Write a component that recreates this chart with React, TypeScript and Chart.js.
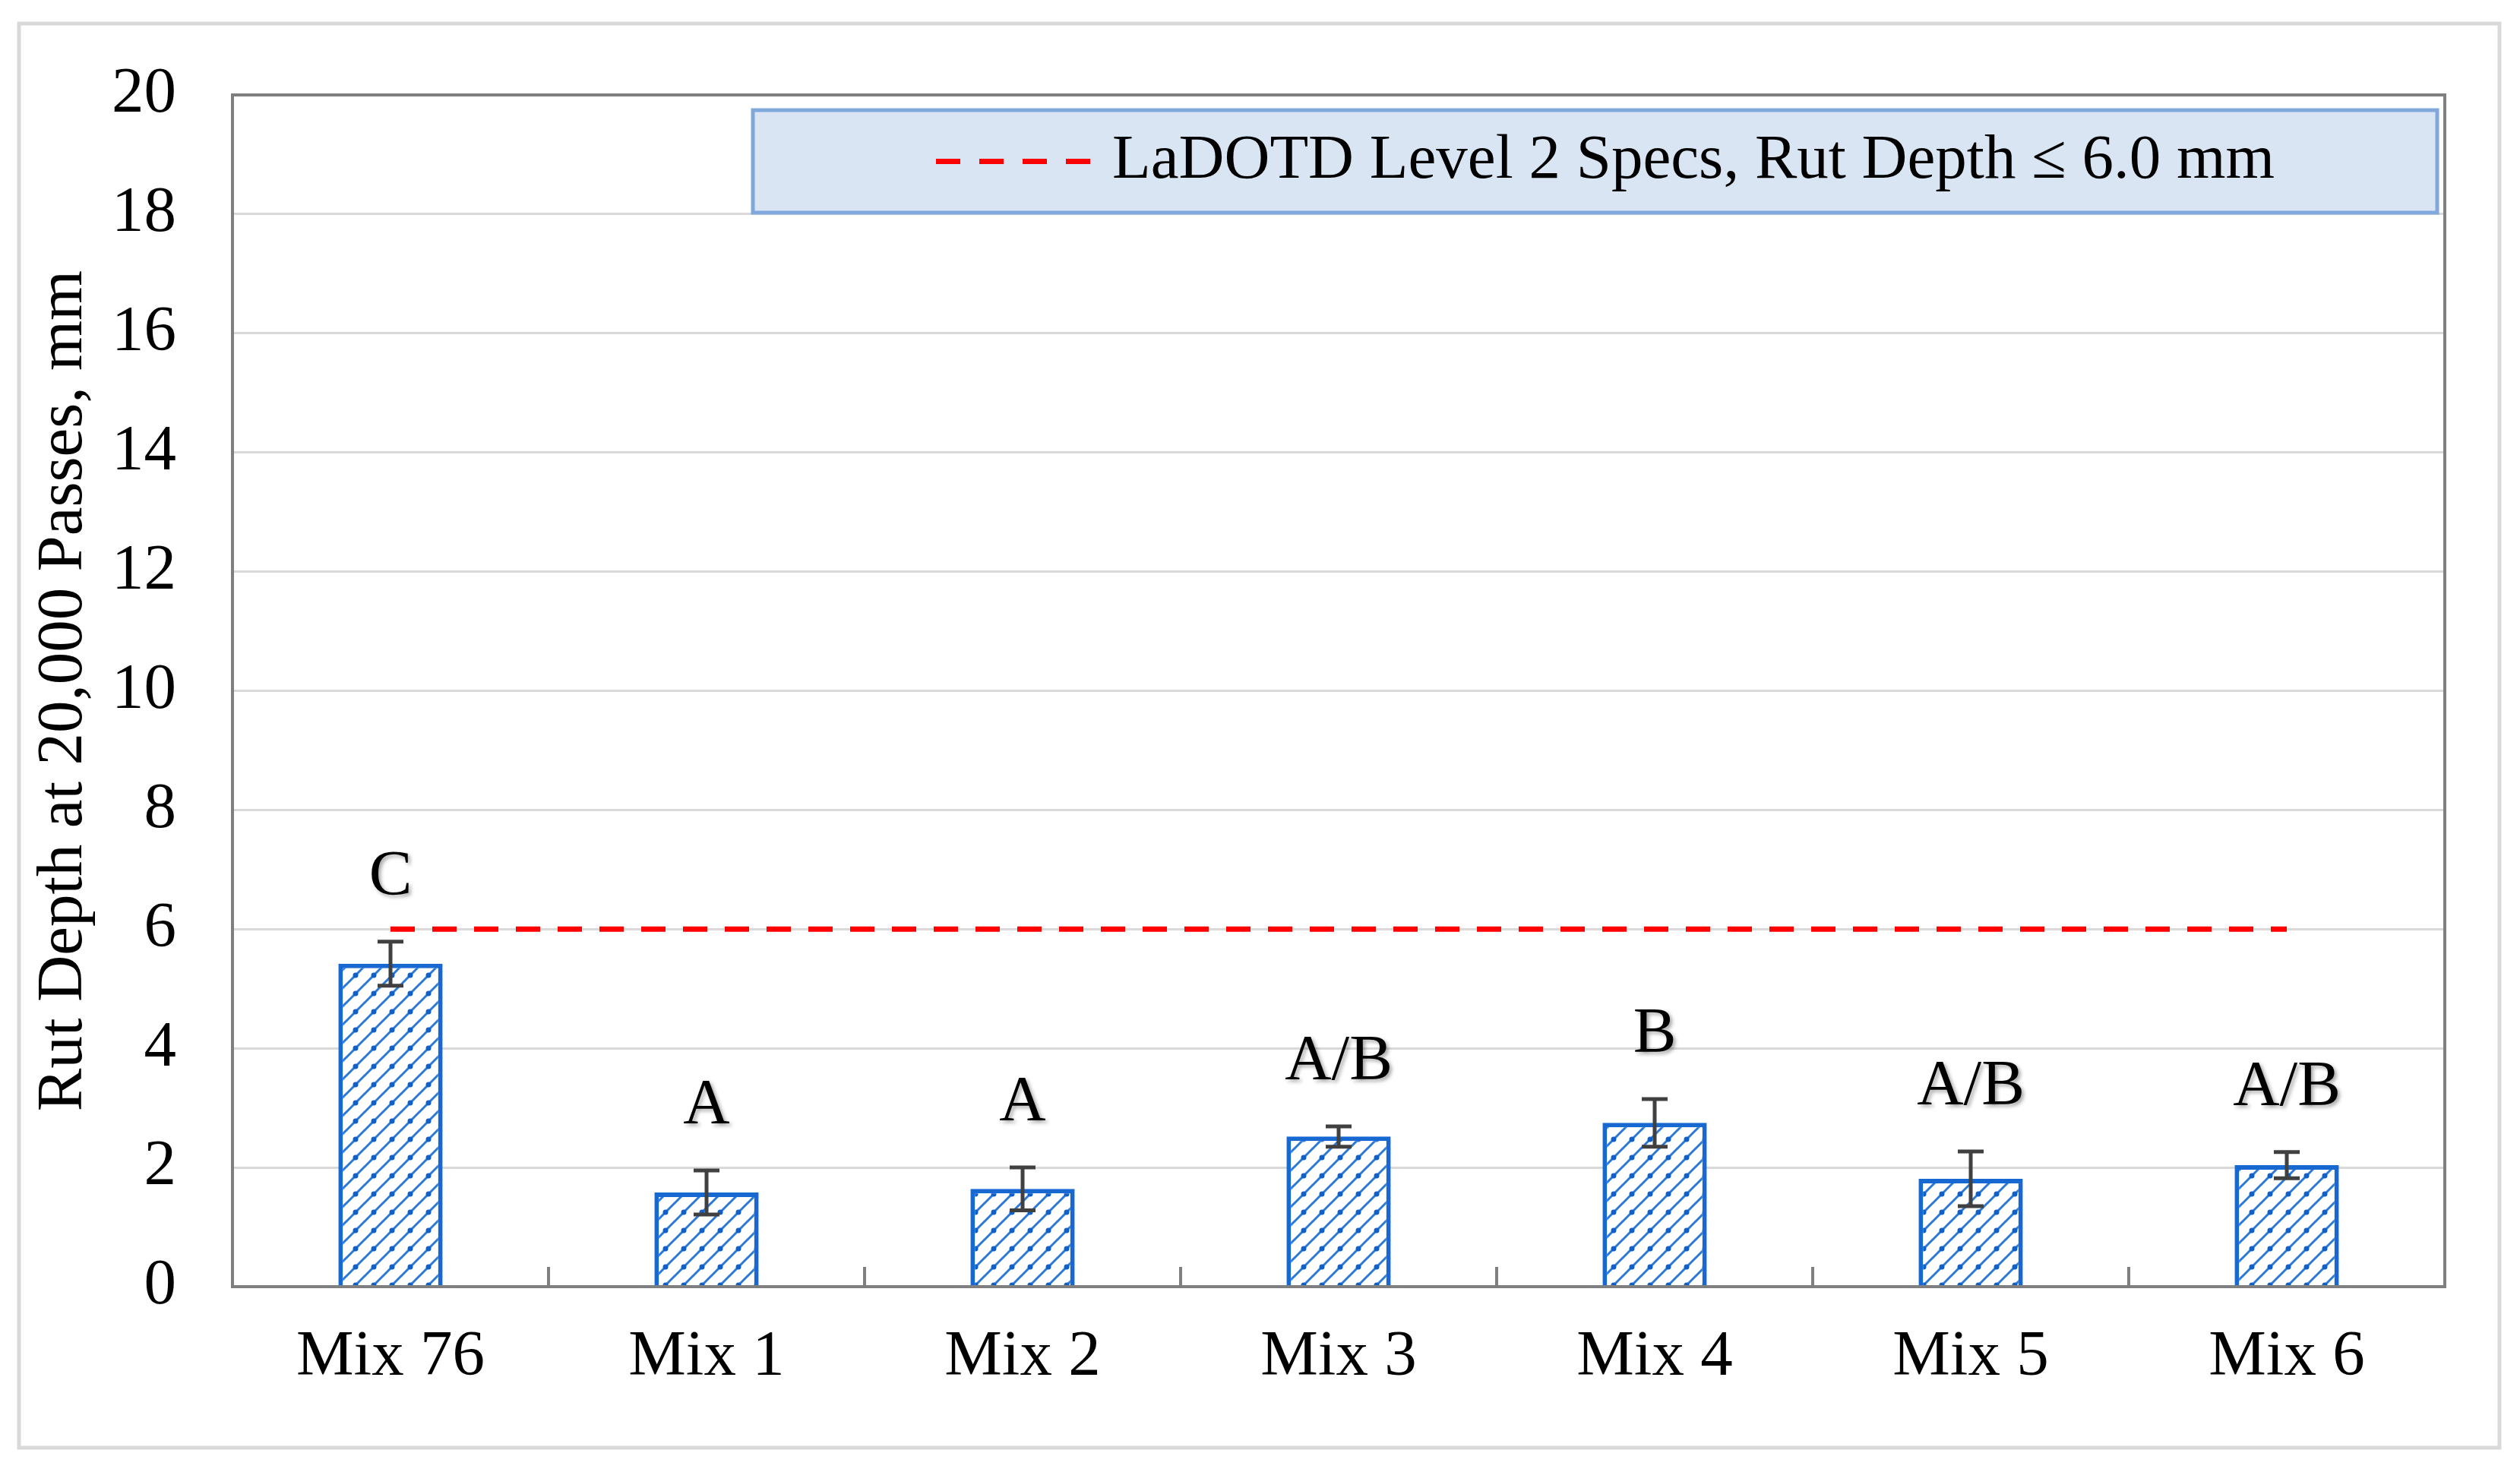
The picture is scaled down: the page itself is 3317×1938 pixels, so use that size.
import { useEffect, useRef } from "react";
import { Chart, registerables } from "chart.js";

Chart.register(...registerables);

// ---- data ----
const categories = ["Mix 76", "Mix 1", "Mix 2", "Mix 3", "Mix 4", "Mix 5", "Mix 6"];
const rutDepth = [5.42, 1.58, 1.64, 2.52, 2.75, 1.81, 2.04];
const rutStdDev = [0.37, 0.37, 0.36, 0.17, 0.4, 0.46, 0.22];
const groupLetters = ["C", "A", "A", "A/B", "B", "A/B", "A/B"];
const specLimit = [6, 6, 6, 6, 6, 6, 6];
const yMin = 0;
const yMax = 20;
const yStep = 2;
const legendText = "LaDOTD Level 2 Specs, Rut Depth \u2264 6.0 mm";
const yTitle = "Rut Depth at 20,000 Passes, mm";

const W = 3317;
const H = 1938;
const FONT = '"Liberation Serif", "Times New Roman", serif';
const FS = 85;
const LEGEND_FS = 83;

function makePattern(): CanvasPattern | string {
  const T = 24;
  const c = document.createElement("canvas");
  c.width = T;
  c.height = T;
  const g = c.getContext("2d");
  if (!g) return "#ffffff";
  g.fillStyle = "#ffffff";
  g.fillRect(0, 0, T, T);
  g.strokeStyle = "#2a78d8";
  g.lineWidth = 3;
  g.beginPath();
  g.moveTo(0, T);
  g.lineTo(T, 0);
  g.moveTo(-T / 2, T / 2);
  g.lineTo(T / 2, -T / 2);
  g.moveTo(T / 2, T * 1.5);
  g.lineTo(T * 1.5, T / 2);
  g.stroke();
  g.fillStyle = "#0f5fc8";
  g.beginPath();
  g.arc(T / 2, T / 2, 3.5, 0, Math.PI * 2);
  g.fill();
  return g.createPattern(c, "repeat") || "#ffffff";
}

const decorPlugin = {
  id: "decor",
  beforeDraw(chart: any) {
    const ctx = chart.ctx;
    ctx.save();
    ctx.fillStyle = "#ffffff";
    ctx.fillRect(0, 0, W, H);
    ctx.strokeStyle = "#d9d9d9";
    ctx.lineWidth = 5;
    ctx.strokeRect(25, 31, 3265, 1875);
    ctx.restore();
  },
  afterDatasetsDraw(chart: any) {
    const ctx = chart.ctx;
    const area = chart.chartArea;
    const y = chart.scales.y;
    const meta = chart.getDatasetMeta(0);
    ctx.save();
    // error bars
    ctx.strokeStyle = "#404040";
    ctx.lineWidth = 5;
    meta.data.forEach((el: any, i: number) => {
      const x = el.x;
      const yt = y.getPixelForValue(rutDepth[i] + rutStdDev[i]);
      const yb = y.getPixelForValue(rutDepth[i] - rutStdDev[i]);
      ctx.beginPath();
      ctx.moveTo(x, yt);
      ctx.lineTo(x, yb);
      ctx.moveTo(x - 17, yt);
      ctx.lineTo(x + 17, yt);
      ctx.moveTo(x - 17, yb);
      ctx.lineTo(x + 17, yb);
      ctx.stroke();
    });
    // group letters
    ctx.fillStyle = "#000000";
    ctx.font = `${FS}px ${FONT}`;
    ctx.textAlign = "center";
    ctx.textBaseline = "middle";
    ctx.shadowColor = "rgba(0,0,0,0.35)";
    ctx.shadowBlur = 5;
    ctx.shadowOffsetX = 3;
    ctx.shadowOffsetY = 3;
    meta.data.forEach((el: any, i: number) => {
      const yt = y.getPixelForValue(rutDepth[i] + rutStdDev[i]);
      ctx.fillText(groupLetters[i], el.x, yt - 84);
    });
    ctx.shadowColor = "transparent";
    ctx.shadowBlur = 0;
    ctx.shadowOffsetX = 0;
    ctx.shadowOffsetY = 0;
    // frame
    ctx.strokeStyle = "#7f7f7f";
    ctx.lineWidth = 4;
    ctx.strokeRect(area.left, area.top, area.right - area.left, area.bottom - area.top);
    // category tick marks
    const xs = chart.scales.x;
    ctx.beginPath();
    for (let i = 0; i < categories.length - 1; i++) {
      const bx = (xs.getPixelForValue(i) + xs.getPixelForValue(i + 1)) / 2;
      ctx.moveTo(bx, area.bottom);
      ctx.lineTo(bx, area.bottom - 26);
    }
    ctx.stroke();
    ctx.restore();
  },
  afterDraw(chart: any) {
    const ctx = chart.ctx;
    const area = chart.chartArea;
    const left = 991;
    const right = area.right - 10;
    const top = area.top + 20;
    const bottom = top + 135;
    ctx.save();
    ctx.fillStyle = "#dae5f4";
    ctx.fillRect(left, top, right - left, bottom - top);
    ctx.strokeStyle = "#80a8dc";
    ctx.lineWidth = 5;
    ctx.strokeRect(left, top, right - left, bottom - top);
    const cy = (top + bottom) / 2;
    ctx.strokeStyle = "#ff0000";
    ctx.lineWidth = 7;
    ctx.setLineDash([32, 25]);
    ctx.beginPath();
    ctx.moveTo(1232, cy);
    ctx.lineTo(1436, cy);
    ctx.stroke();
    ctx.setLineDash([]);
    ctx.fillStyle = "#000000";
    ctx.font = `${LEGEND_FS}px ${FONT}`;
    ctx.textAlign = "left";
    ctx.textBaseline = "middle";
    ctx.fillText(legendText, 1464, cy);
    ctx.restore();
  },
};

export default function App() {
  const ref = useRef<HTMLCanvasElement | null>(null);
  useEffect(() => {
    if (!ref.current) return;
    const pattern = makePattern();
    const chart = new Chart(ref.current, {
      type: "bar",
      data: {
        labels: categories,
        datasets: [
          {
            type: "bar",
            label: "Rut depth",
            data: rutDepth,
            backgroundColor: pattern as any,
            borderColor: "#1769d1",
            borderWidth: 6,
            barPercentage: 0.33,
            categoryPercentage: 1,
            order: 2,
          },
          {
            type: "line",
            label: legendText,
            data: specLimit,
            borderColor: "#ff0000",
            borderWidth: 7,
            borderDash: [32, 23],
            pointRadius: 0,
            fill: false,
            order: 1,
          } as any,
        ],
      },
      options: {
        responsive: false,
        animation: false,
        devicePixelRatio: 1,
        layout: { padding: { left: 25, top: 113, right: 99, bottom: 0 } },
        plugins: {
          legend: { display: false },
          tooltip: { enabled: false },
        },
        scales: {
          x: {
            grid: { display: false, drawTicks: false },
            border: { display: false },
            ticks: {
              color: "#000000",
              font: { family: FONT, size: FS },
              padding: 43,
            },
            afterFit(scale: any) {
              scale.height = 244;
            },
          },
          y: {
            min: yMin,
            max: yMax,
            grid: { color: "#d9d9d9", lineWidth: 3, drawTicks: false },
            border: { display: false },
            ticks: {
              stepSize: yStep,
              color: "#000000",
              font: { family: FONT, size: FS },
              padding: 74,
            },
            title: {
              display: true,
              text: yTitle,
              color: "#000000",
              font: { family: FONT, size: FS },
              padding: { top: 9, bottom: 0 },
            },
            afterFit(scale: any) {
              scale.width = 281;
            },
          },
        },
      },
      plugins: [decorPlugin],
    });
    return () => chart.destroy();
  }, []);
  return (
    <div style={{ position: "absolute", left: 0, top: 0, width: W, height: H, background: "#fff" }}>
      <canvas ref={ref} width={W} height={H} style={{ display: "block", width: W, height: H }} />
    </div>
  );
}
